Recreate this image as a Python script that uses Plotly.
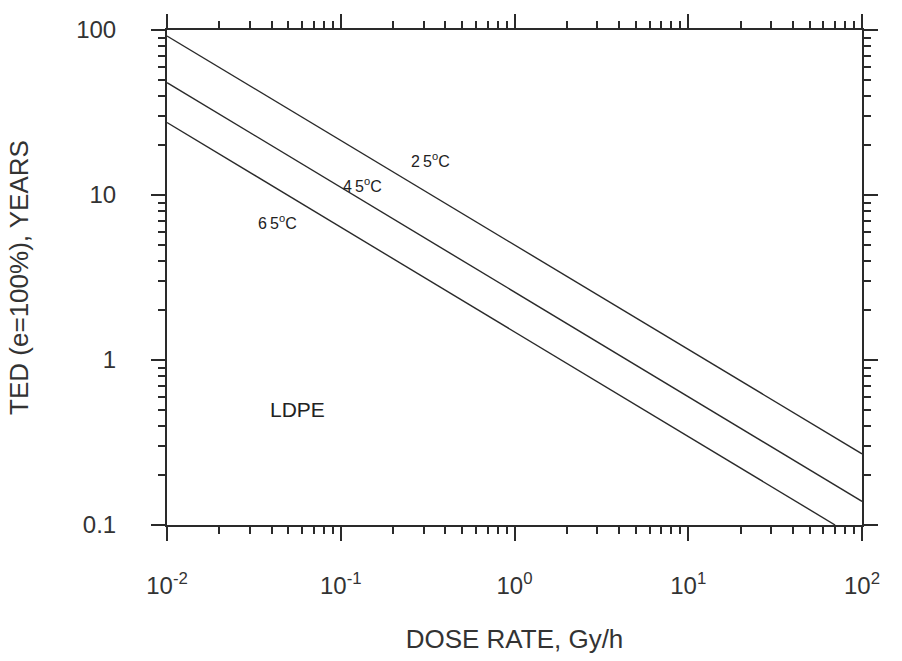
import math
import plotly.graph_objects as go

# Data
dose_rate = [0.01, 100]
ted_25 = [92, 0.27]
ted_45 = [48, 0.139]
dose_rate_65 = [0.01, 70]
ted_65 = [27.5, 0.1]

x_tickvals = [0.01, 0.1, 1, 10, 100]
x_ticktext = ["10<sup>-2</sup>", "10<sup>-1</sup>", "10<sup>0</sup>", "10<sup>1</sup>", "10<sup>2</sup>"]
y_tickvals = [0.1, 1, 10, 100]
y_ticktext = ["0.1", "1", "10", "100"]

labels = ["2\u20095<sup>o</sup>C", "4\u20095<sup>o</sup>C", "6\u20095<sup>o</sup>C", "LDPE"]
label_x = [0.33, 0.134, 0.043, 0.056]
label_y = [16.3, 11.5, 6.9, 0.5]
label_size = [16, 16, 16, 21]

line_color = "#2a2a2a"
font_family = "Liberation Sans, Arial, sans-serif"

fig = go.Figure()
for xs, ys in [(dose_rate, ted_25), (dose_rate, ted_45), (dose_rate_65, ted_65)]:
    fig.add_trace(go.Scatter(x=xs, y=ys, mode="lines",
                             line=dict(color=line_color, width=1.4),
                             showlegend=False, hoverinfo="skip"))

for t, xv, yv, s in zip(labels, label_x, label_y, label_size):
    fig.add_annotation(x=math.log10(xv), y=math.log10(yv), xref="x", yref="y",
                       text=t, showarrow=False,
                       font=dict(size=s, color="#222", family=font_family))

axis_common = dict(
    showline=True, linecolor=line_color, linewidth=2, mirror="ticks",
    ticks="outside", ticklen=14, tickwidth=1.8, tickcolor=line_color,
    showgrid=False, zeroline=False,
    minor=dict(ticks="outside", ticklen=7, tickwidth=1.5, tickcolor=line_color,
               dtick="D1", showgrid=False),
    tickfont=dict(size=24, color="#333", family=font_family),
)

fig.update_xaxes(type="log", range=[-2, 2], tickvals=x_tickvals, ticktext=x_ticktext,
                 ticklabelstandoff=24,
                 title=dict(text="DOSE RATE, Gy/h", standoff=32,
                            font=dict(size=26, color="#333", family=font_family)),
                 **axis_common)
fig.update_yaxes(type="log", range=[-1, 2], tickvals=y_tickvals, ticktext=y_ticktext,
                 ticklabelstandoff=30,
                 title=dict(text="TED (e=100%), YEARS", standoff=40,
                            font=dict(size=26, color="#333", family=font_family)),
                 **axis_common)

fig.update_layout(
    width=902, height=661,
    margin=dict(l=167, r=40, t=30, b=136),
    paper_bgcolor="white", plot_bgcolor="white",
)

fig.write_html("out.html")
